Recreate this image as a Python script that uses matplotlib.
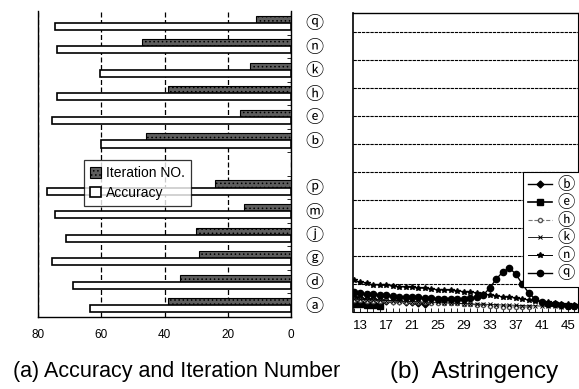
import numpy as np
import matplotlib
matplotlib.use("Agg")
import matplotlib.pyplot as plt
from matplotlib.ticker import FixedLocator

plt.rcParams['font.family'] = ['Liberation Sans', 'DejaVu Sans', 'Noto Sans CJK JP']
plt.rcParams['hatch.color'] = '#b0b0b0'
plt.rcParams['hatch.linewidth'] = 0.6

# (a) accuracy / iteration number, bottom to top ('' = empty slot)
cats = ['ⓐ', 'ⓓ', 'ⓖ', 'ⓙ', 'ⓜ', 'ⓟ', '', 'ⓑ', 'ⓔ', 'ⓗ', 'ⓚ', 'ⓝ', 'ⓠ']
accuracy = [63.5, 69, 75.5, 71, 74.5, 77, 0, 60, 75.5, 74, 60.5, 74, 74.5]
iteration = [39, 35, 29, 30, 15, 24, 0, 46, 16, 39, 13, 47, 11]

# (b) astringency curves, x = iteration
iters = list(range(12, 47))
curve_n = [1.14, 1.07, 1.02, 0.98, 0.96, 0.95, 0.93, 0.91, 0.89, 0.88, 0.86, 0.84,
           0.82, 0.80, 0.79, 0.77, 0.75, 0.73, 0.70, 0.68, 0.64, 0.61, 0.57, 0.55,
           0.52, 0.50, 0.46, 0.43, 0.39, 0.37, 0.34, 0.32, 0.29, 0.27, 0.25]
curve_q = [0.71, 0.68, 0.64, 0.63, 0.61, 0.59, 0.57, 0.55, 0.54, 0.54, 0.52, 0.50,
           0.50, 0.48, 0.48, 0.48, 0.48, 0.48, 0.50, 0.52, 0.61, 0.86, 1.18, 1.43,
           1.57, 1.36, 1.00, 0.68, 0.46, 0.36, 0.30, 0.27, 0.25, 0.23, 0.21]
curve_b = [0.54, 0.50, 0.46, 0.45, 0.43, 0.41, 0.39, 0.38, 0.36, 0.34, 0.32, 0.30]
curve_e = [0.29, 0.27, 0.25, 0.25, 0.23]
curve_h = [0.43, 0.42, 0.41, 0.40, 0.39, 0.38, 0.37, 0.36, 0.35, 0.35, 0.34, 0.34,
           0.33, 0.33, 0.33, 0.32, 0.31, 0.30, 0.28, 0.26, 0.24, 0.22, 0.20, 0.19,
           0.19, 0.18, 0.18, 0.18]
curve_k = [0.46, 0.45, 0.44, 0.43, 0.42, 0.41, 0.40, 0.39, 0.38, 0.37, 0.36, 0.35,
           0.35, 0.34, 0.33, 0.32, 0.31, 0.30, 0.29, 0.28, 0.28, 0.27, 0.26, 0.25,
           0.25, 0.24, 0.23, 0.22, 0.22, 0.21, 0.20, 0.20, 0.19, 0.18, 0.18]
xticks_b = [13, 17, 21, 25, 29, 33, 37, 41, 45]

fig = plt.figure(figsize=(5.79, 3.89), dpi=100)
W, H = 579, 389

# ---- left panel
ax1 = fig.add_axes([38 / W, 1 - 317 / H, (291 - 38) / W, (317 - 11) / H])
idx = [i for i, c in enumerate(cats) if c]
pos = np.array(idx, dtype=float)
acc = [accuracy[i] for i in idx]
itn = [iteration[i] for i in idx]
ax1.barh(pos + 0.15, itn, height=0.3, color='#5e5e5e', edgecolor='black',
         linewidth=0.8, hatch='....', label='Iteration NO.', zorder=3)
ax1.barh(pos - 0.15, acc, height=0.3, color='white', edgecolor='black',
         linewidth=1.2, label='Accuracy', zorder=3)
ax1.set_xlim(80, 0)
ax1.set_ylim(-0.5, len(cats) - 0.5)
ax1.set_xticks([80, 60, 40, 20, 0])
ax1.tick_params(axis='x', length=0, pad=9, labelsize=8.5)
ax1.yaxis.tick_right()
ax1.set_yticks(pos)
ax1.set_yticklabels([cats[i] for i in idx], fontsize=13)
ax1.tick_params(axis='y', length=0, pad=10)
ax1.yaxis.set_minor_locator(FixedLocator(np.arange(0.5, len(cats) - 0.5, 1)))
ax1.tick_params(axis='y', which='minor', direction='in', length=3, width=0.6)
ax1.grid(axis='x', linestyle=(0, (4, 2)), color='black', linewidth=0.9, zorder=0)
ax1.spines['top'].set_visible(False)
ax1.spines['left'].set_linestyle((0, (5, 1)))
for s in ax1.spines.values():
    s.set_linewidth(1.0)
leg1 = ax1.legend(loc='upper left', bbox_to_anchor=(84 / W, 1 - 160 / H),
                  bbox_transform=fig.transFigure, frameon=True, fancybox=False,
                  edgecolor='black', fontsize=10, handlelength=0.8,
                  handleheight=0.8, handletextpad=0.3, borderpad=0.45,
                  labelspacing=0.4, borderaxespad=0)
leg1.get_frame().set_linewidth(0.9)
leg1.set_zorder(5)

# ---- right panel
ax2 = fig.add_axes([353 / W, 1 - 312 / H, (578 - 353) / W, (312 - 13) / H])
ax2.plot(iters[:len(curve_b)], curve_b, '-', color='black', marker='D', ms=3.5, lw=1.0, label='ⓑ')
ax2.plot(iters[:len(curve_e)], curve_e, '-', color='black', marker='s', ms=5, lw=1.2, label='ⓔ')
ax2.plot(iters[:len(curve_h)], curve_h, '--', color='#777777', marker='o', ms=3,
         mfc='white', mec='#555555', lw=0.8, label='ⓗ')
ax2.plot(iters, curve_k, '-', color='black', marker='x', ms=3, mew=0.7, lw=0.6, label='ⓚ')
ax2.plot(iters, curve_n, '-', color='black', marker='*', ms=4, lw=0.7, label='ⓝ')
ax2.plot(iters, curve_q, '-', color='black', marker='o', ms=4.5, lw=1.0, label='ⓠ')
ax2.set_xlim(11.9, 46.6)
ax2.set_ylim(0, 10.68)
ax2.set_yticks(np.arange(1, 11, 1))
ax2.tick_params(axis='y', length=0, labelleft=False)
ax2.grid(axis='y', color='black', linewidth=0.8, linestyle=(0, (3, 0.8)))
ax2.set_xticks(xticks_b)
ax2.xaxis.set_minor_locator(FixedLocator(iters))
ax2.tick_params(axis='x', which='both', direction='in', length=3, width=0.6,
                labelsize=9.5, pad=6)
ax2.spines['top'].set_linewidth(1.0)
ax2.spines['left'].set_linewidth(1.2)
leg2 = ax2.legend(loc='upper left', bbox_to_anchor=(523 / W, 1 - 172 / H),
                  bbox_transform=fig.transFigure, frameon=True, fancybox=False,
                  edgecolor='black', fontsize=12.5, handlelength=1.35,
                  handletextpad=0.35, borderpad=0.3, labelspacing=0.1,
                  borderaxespad=0, framealpha=1)
leg2.get_frame().set_linewidth(0.8)

# captions
fig.text(177 / W, 1 - 372 / H, '(a) Accuracy and Iteration Number',
         ha='center', va='center', fontsize=15.5)
fig.text(474 / W, 1 - 372 / H, '(b)  Astringency',
         ha='center', va='center', fontsize=17.5)

fig.savefig('out.png', dpi=100)
